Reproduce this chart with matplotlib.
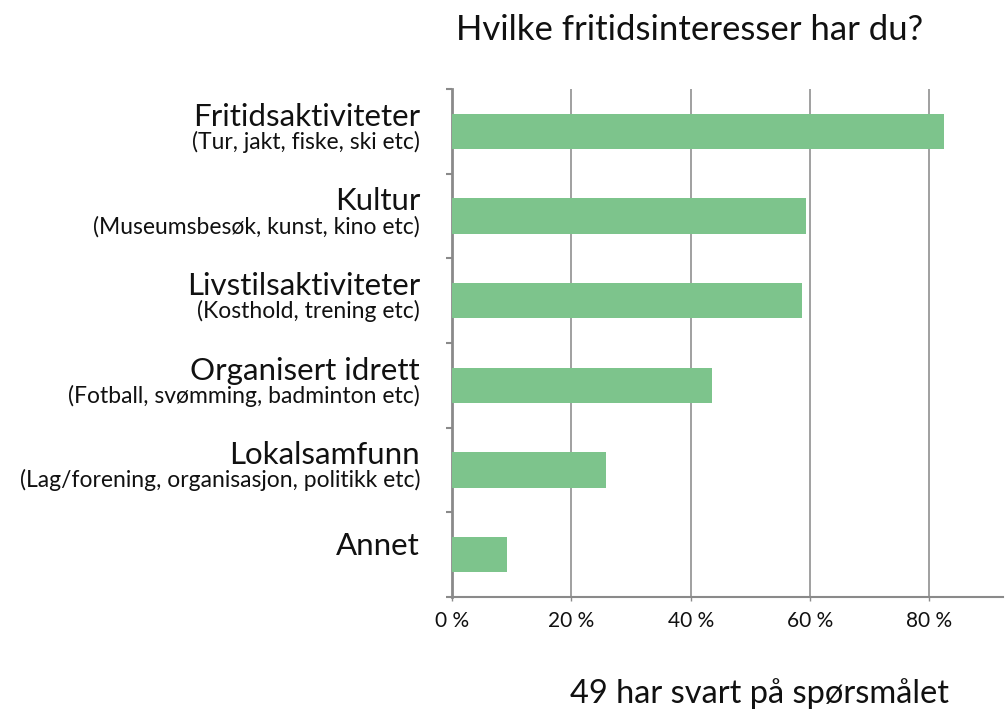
import matplotlib
matplotlib.use("Agg")
import matplotlib.pyplot as plt
import matplotlib.transforms as mtransforms

# data
categories = ["Fritidsaktiviteter", "Kultur", "Livstilsaktiviteter",
              "Organisert idrett", "Lokalsamfunn", "Annet"]
subtitles = ["(Tur, jakt, fiske, ski etc)", "(Museumsbesøk, kunst, kino etc)",
             "(Kosthold, trening etc)", "(Fotball, svømming, badminton etc)",
             "(Lag/forening, organisasjon, politikk etc)", ""]
values = [82.5, 59.4, 58.7, 43.5, 25.8, 9.2]
xticks = [0, 20, 40, 60, 80]
xticklabels = ["0 %", "20 %", "40 %", "60 %", "80 %"]

plt.rcParams['font.family'] = ['Lato', 'DejaVu Sans']

fig = plt.figure(figsize=(10.05, 7.13), dpi=100)
ax = fig.add_axes([0.4498, 0.1627, 0.548, 0.7125])

ypos = list(range(len(categories)))
ax.barh(ypos, values, height=0.42, color="#7dc48c", zorder=3)
ax.set_ylim(len(categories) - 0.5, -0.5)
ax.set_xlim(0, 92.3)

# grid
for x in xticks[1:]:
    ax.axvline(x, color="#a0a0a0", linewidth=1.4, zorder=1)

# spines
for s in ["top", "right"]:
    ax.spines[s].set_visible(False)
ax.spines["left"].set_color("#8a8a8a")
ax.spines["left"].set_linewidth(2)
ax.spines["bottom"].set_color("#8a8a8a")
ax.spines["bottom"].set_linewidth(1.5)

ax.set_xticks(xticks)
ax.set_xticklabels(xticklabels, fontsize=15, color="#111111")
ax.tick_params(axis="x", length=3, width=1, color="#8a8a8a", pad=7)
ax.set_yticks([y - 0.5 for y in range(len(categories) + 1)])
ax.set_yticklabels([])
ax.tick_params(axis="y", length=4, width=1.5, color="#8a8a8a")

# category labels (main + smaller description)
trans = mtransforms.blended_transform_factory(ax.transAxes, ax.transData)
for y, name, sub in zip(ypos, categories, subtitles):
    if sub:
        ax.annotate(name, xy=(0, y), xycoords=trans, xytext=(-23, 10.5),
                    textcoords="offset points", ha="right", va="center",
                    fontsize=22.5, color="#111111")
        ax.annotate(sub, xy=(0, y), xycoords=trans, xytext=(-23, -7.5),
                    textcoords="offset points", ha="right", va="center",
                    fontsize=16.5, color="#111111")
    else:
        ax.annotate(name, xy=(0, y), xycoords=trans, xytext=(-23, 6.5),
                    textcoords="offset points", ha="right", va="center",
                    fontsize=22.5, color="#111111")

fig.text(0.686, 0.958, "Hvilke fritidsinteresser har du?", ha="center", va="center",
         fontsize=25, color="#111111")
fig.text(0.756, 0.028, "49 har svart på spørsmålet", ha="center", va="center",
         fontsize=23.5, color="#111111")

fig.savefig("out.png", dpi=100)
